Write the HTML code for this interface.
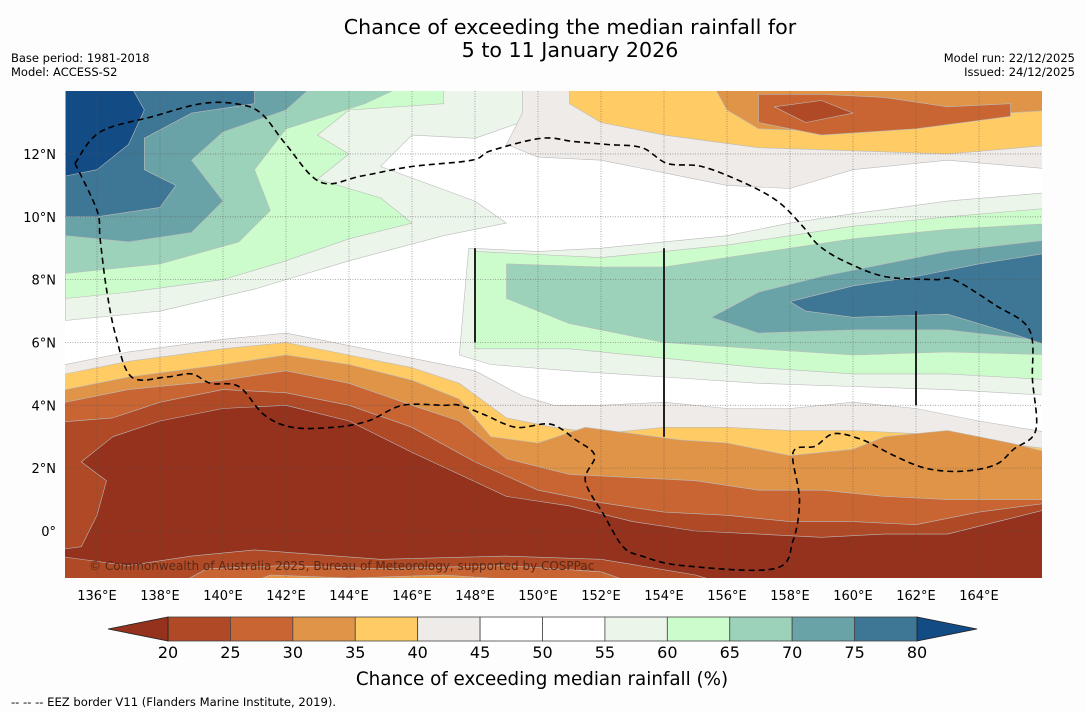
<!DOCTYPE html>
<html><head><meta charset="utf-8"><style>
body{margin:0;background:#fdfdfd;width:1085px;height:713px;overflow:hidden;font-family:"Liberation Sans","DejaVu Sans",sans-serif}
</style></head><body>
<svg id="chart" width="1085" height="713" xmlns="http://www.w3.org/2000/svg" style="position:absolute;left:0;top:0;font-family:'DejaVu Sans','Liberation Sans',sans-serif">
<text x="570" y="34" font-size="20.6" text-anchor="middle" fill="#000">Chance of exceeding the median rainfall for</text>
<text x="570" y="57" font-size="20.6" text-anchor="middle" fill="#000">5 to 11 January 2026</text>
<text x="11" y="62" font-size="11.5">Base period: 1981-2018</text>
<text x="11" y="76" font-size="11.5">Model: ACCESS-S2</text>
<text x="1075" y="62" font-size="11.5" text-anchor="end">Model run: 22/12/2025</text>
<text x="1075" y="76" font-size="11.5" text-anchor="end">Issued: 24/12/2025</text>
<defs><clipPath id="mapclip"><rect x="65" y="91" width="977" height="487"/></clipPath></defs>
<g id="map" clip-path="url(#mapclip)"></g>
<g id="axes"></g>
<g id="cbar"></g>
<text x="542" y="685" font-size="18.3" text-anchor="middle">Chance of exceeding median rainfall (%)</text>
<text x="11" y="706" font-size="11.6">--  --  -- EEZ border V11 (Flanders Marine Institute, 2019).</text>
</svg>
<script>
const levels=[20,25,30,35,40,45,50,55,60,65,70,75,80];
const binColors=["#94321e","#b04925","#c96532","#e09448","#fecb65","#efebe8","#ffffff","#ffffff","#ebf5ea","#ccfccc","#9cd2b9","#6aa3a7","#3e7795","#134b85"];
const lonTicks=[136,138,140,142,144,146,148,150,152,154,156,158,160,162,164];
const latTicks=[0,2,4,6,8,10,12];
// contour regions: [binIndex, polygon of [lon,lat]]
const regions=[
[8,[[135,14.3],[152,14.3],[152,13.6],[150,13.2],[148,12.5],[146,12.6],[145,11.6],[148,10.5],[149,9.8],[147,9.4],[144,8.6],[141,7.7],[138,7.0],[135,6.7]]],
[9,[[135,14.3],[147,14.3],[147,13.6],[144,13.4],[143,12.6],[144,12.0],[143,11.2],[145,10.6],[146,9.8],[144,9.3],[142,8.6],[140,8.0],[137,7.6],[135,7.4]]],
[10,[[135,14.3],[146,14.3],[144.5,13.6],[142,12.8],[141,11.5],[141.5,10.2],[140.5,9.2],[138,8.5],[135,8.2]]],
[11,[[135,14.3],[143,14.3],[142,13.4],[140,12.7],[139,11.8],[140,10.5],[139,9.5],[137,9.2],[135,9.4]]],
[12,[[135,14.3],[141,14.3],[141,13.6],[139,13.3],[137.5,12.5],[137.5,11.5],[138.5,11.0],[138,10.3],[136,10.0],[135,10.0]]],
[13,[[135,14.3],[137,14.3],[137.5,13.4],[137,12.3],[136,11.5],[135,11.3]]],
[8,[[147.5,5.6],[147.8,9.0],[150,8.9],[152,9.0],[154,9.2],[156,9.4],[158,9.8],[160,10.1],[163,10.5],[166.5,10.8],[166.5,4.3],[163,4.5],[160,4.6],[157,4.7],[154,4.9],[151,5.1],[148.5,5.3]]],
[9,[[148,5.8],[148,8.9],[150,8.8],[152,8.7],[154,8.9],[156,9.1],[158,9.4],[160,9.7],[163,10.0],[166.5,10.3],[166.5,4.8],[163,5.0],[160,5.0],[157,5.2],[154,5.5],[151,5.8],[149,5.8]]],
[10,[[149,7.4],[149,8.5],[152,8.4],[154,8.4],[156,8.7],[158,9.0],[160,9.3],[163,9.6],[166.5,9.8],[166.5,5.6],[163,5.7],[160,5.6],[157,5.8],[154,6.0],[151,6.6]]],
[11,[[155.5,6.8],[157,7.6],[159,8.1],[161,8.5],[163,8.9],[166.5,9.3],[166.5,6.0],[163,6.4],[160,6.4],[157,6.3]]],
[12,[[158,7.3],[160,7.8],[162,8.1],[164,8.5],[166.5,8.9],[166.5,5.8],[165,6.3],[163,6.9],[160,6.8],[158.5,7.0]]],
[5,[[149.5,14.3],[166.5,14.3],[166.5,11.5],[163,11.8],[160,11.5],[158,10.9],[156,11.0],[154,11.4],[152,11.8],[150,11.9],[149,12.3],[149.5,13.3]]],
[4,[[151,14.3],[166.5,14.3],[166.5,12.3],[163,12.0],[160,12.1],[157,12.2],[154,12.6],[152,13.0],[151,13.6]]],
[3,[[155.5,14.3],[166.5,14.3],[166.5,13.4],[163,13.2],[160,12.7],[157,12.8],[156,13.4]]],
[2,[[157,13.9],[159,13.9],[161,13.8],[163,13.5],[165,13.6],[165,13.2],[162,12.8],[159,12.6],[157,13.0]]],
[1,[[157.5,13.5],[159,13.7],[160,13.3],[158.5,13.0]]],
[5,[[134,5.1],[137,5.7],[140,6.1],[142,6.3],[144,5.9],[146,5.5],[148,5.1],[149.5,4.3],[150.5,4.0],[152,4.0],[154,4.1],[156,3.9],[158,3.9],[160,4.1],[162,3.9],[164,3.5],[167,3.0],[167,-2],[134,-2]]],
[4,[[134,4.8],[137,5.4],[140,5.8],[142,6.0],[144,5.6],[146,5.2],[147.5,4.7],[149,3.6],[150.5,3.3],[152,3.1],[154,3.3],[156,3.3],[158,3.2],[160,3.2],[162,3.1],[164,2.9],[167,2.5],[167,-2],[134,-2]]],
[3,[[134,4.3],[137,4.9],[140,5.3],[142,5.6],[144,5.3],[146,4.8],[147.5,4.2],[148.5,3.0],[150,2.8],[151.5,3.3],[153,3.1],[154.5,2.9],[156,2.8],[158,2.4],[160,2.6],[161,3.0],[163,3.2],[165,2.8],[167,2.3],[167,-2],[134,-2]]],
[2,[[134,3.9],[137,4.5],[140,4.8],[142,5.1],[144,4.7],[146,4.0],[147.5,3.5],[149,2.3],[151,1.8],[153,1.7],[155,1.6],[157,1.3],[159,1.3],[161,1.1],[163,1.0],[166,1.0],[167,1.0],[167,-2],[134,-2]]],
[1,[[134,3.4],[136.5,3.6],[138,4.1],[140,4.5],[142,4.4],[144,4.0],[146,3.3],[148,2.2],[150,1.3],[152,0.9],[154,0.6],[156,0.5],[158,0.3],[160,0.3],[162,0.2],[164,0.6],[167,1.0],[167,-2],[134,-2]]],
[0,[[134,-0.7],[135.5,-0.5],[136,0.5],[136.3,1.6],[135.5,2.2],[136.5,3.0],[138,3.5],[140,3.9],[142,4.0],[144,3.5],[146,2.5],[147.5,1.8],[149,1.1],[151,0.8],[153,0.3],[155,0.0],[157,-0.1],[159,-0.2],[161,-0.1],[163,-0.1],[165,0.4],[167,0.9],[167,-2],[157,-2],[155,-1.4],[152,-0.9],[149,-0.8],[145,-0.9],[141,-0.6],[139,-0.8],[137,-1.1]]],
[2,[[138,-2],[139.5,-1.2],[142,-1.1],[145,-1.2],[149,-1.1],[152,-1.3],[154,-2]]],
[3,[[140,-2],[141.5,-1.4],[144,-1.5],[147,-1.4],[150,-1.6],[151,-2]]]
];
const eez=[[135.3,11.7],[136.1,12.7],[137.8,13.2],[139.3,13.6],[140.4,13.6],[141.2,13.3],[142,12.3],[143.1,11.1],[144.4,11.3],[146,11.6],[147.9,11.8],[148.5,12.1],[150.1,12.5],[151.1,12.4],[152.2,12.3],[153.3,12.2],[154.1,11.7],[155.2,11.6],[156.5,11.1],[157.6,10.5],[158.4,9.7],[158.9,9.1],[159.7,8.6],[161,8.1],[162.6,8.0],[163.2,8.0],[164.5,7.2],[165.6,6.4],[165.7,4.8],[165.8,3.2],[165.1,2.6],[164.5,2.1],[163.4,1.9],[162.3,2.0],[161.3,2.4],[160.3,2.9],[159.4,3.1],[158.8,2.7],[158.1,2.5],[158.3,1.0],[158.1,-0.3],[157.5,-1.2],[154.6,-1.1],[153.3,-0.8],[152.7,-0.5],[152.1,0.5],[151.5,1.6],[151.8,2.4],[151.2,2.9],[150.4,3.4],[149.3,3.3],[148.3,3.7],[147.5,4.0],[147,4.0],[145.7,4.0],[144.6,3.5],[143.5,3.3],[142.2,3.3],[141.3,3.7],[140.5,4.6],[139.6,4.7],[139,5.0],[138.2,4.9],[137.1,4.9],[136.6,6.2],[136.3,7.7],[136.1,9.3],[136,10.2],[135.3,11.7]];
const stems=[[148,6,9],[154,3,9],[162,4,7]];

const NS='http://www.w3.org/2000/svg';
const X=lon=>97+(lon-136)*31.5;
const Y=lat=>531-lat*31.42;
function linear(pts){
  return 'M'+pts.map(q=>X(q[0]).toFixed(1)+','+Y(q[1]).toFixed(1)).join('L')+'Z';
}
function smooth(pts){
  const p=pts.map(q=>[X(q[0]),Y(q[1])]);const n=p.length;let d='M'+p[0][0].toFixed(1)+','+p[0][1].toFixed(1);
  for(let i=0;i<n-1;i++){
    const p1=p[i],p2=p[i+1],a0=i>0?p[i-1]:p1,a3=i+2<n?p[i+2]:p2;
    const c1=[p1[0]+(p2[0]-a0[0])/6,p1[1]+(p2[1]-a0[1])/6],c2=[p2[0]-(a3[0]-p1[0])/6,p2[1]-(a3[1]-p1[1])/6];
    d+=`C${c1[0].toFixed(1)},${c1[1].toFixed(1)} ${c2[0].toFixed(1)},${c2[1].toFixed(1)} ${p2[0].toFixed(1)},${p2[1].toFixed(1)}`;
  }
  return d;
}
const map=document.getElementById('map');
const bg=document.createElementNS(NS,'rect');


bg.setAttribute('x',65);bg.setAttribute('y',91);bg.setAttribute('width',977);bg.setAttribute('height',487);bg.setAttribute('fill','#ffffff');
map.appendChild(bg);
regions.forEach((r,i)=>{
  const el=document.createElementNS(NS,'path');
  
  
  el.setAttribute('d',linear(r[1]));el.setAttribute('fill',binColors[r[0]]);
  el.setAttribute('stroke','#bbb');el.setAttribute('stroke-width','0.6');el.setAttribute('stroke-linejoin','round');
  map.appendChild(el);
});
lonTicks.forEach(l=>{
  const g=document.createElementNS(NS,'line');
  
  
  g.setAttribute('x1',X(l));g.setAttribute('x2',X(l));g.setAttribute('y1',91);g.setAttribute('y2',578);
  g.setAttribute('stroke','#555');g.setAttribute('stroke-width','0.8');g.setAttribute('stroke-dasharray','1,1.5');g.setAttribute('opacity','0.6');
  map.appendChild(g);
});
latTicks.forEach(l=>{
  const g=document.createElementNS(NS,'line');
  
  
  g.setAttribute('x1',65);g.setAttribute('x2',1042);g.setAttribute('y1',Y(l));g.setAttribute('y2',Y(l));
  g.setAttribute('stroke','#555');g.setAttribute('stroke-width','0.8');g.setAttribute('stroke-dasharray','1,1.5');g.setAttribute('opacity','0.6');
  map.appendChild(g);
});
stems.forEach(s=>{
  const g=document.createElementNS(NS,'line');
  
  
  g.setAttribute('x1',X(s[0]));g.setAttribute('x2',X(s[0]));g.setAttribute('y1',Y(s[2]));g.setAttribute('y2',Y(s[1]));
  g.setAttribute('stroke','#222');g.setAttribute('stroke-width','2');
  map.appendChild(g);
});
const ez=document.createElementNS(NS,'path');


ez.setAttribute('d',smooth(eez));ez.setAttribute('fill','none');ez.setAttribute('stroke','#000');ez.setAttribute('stroke-width','1.6');ez.setAttribute('stroke-dasharray','6,4');
map.appendChild(ez);
const cp=document.createElementNS(NS,'text');


cp.setAttribute('x',89);cp.setAttribute('y',570);cp.setAttribute('font-size','12');cp.setAttribute('fill','#5a2a18');
cp.textContent='© Commonwealth of Australia 2025, Bureau of Meteorology, supported by COSPPac';
map.appendChild(cp);

const axes=document.getElementById('axes');
lonTicks.forEach(l=>{
  const t=document.createElementNS(NS,'text');
  
  
  t.setAttribute('x',X(l));t.setAttribute('y',600);t.setAttribute('font-size','13');t.setAttribute('text-anchor','middle');
  t.textContent=l+'°E';axes.appendChild(t);
});
latTicks.forEach(l=>{
  const t=document.createElementNS(NS,'text');
  
  
  t.setAttribute('x',56);t.setAttribute('y',Y(l)+5);t.setAttribute('font-size','13');t.setAttribute('text-anchor','end');
  t.textContent=l===0?'0°':l+'°N';axes.appendChild(t);
});

const cb=document.getElementById('cbar');
const cx0=168,cw=(917-168)/12,cy=617,ch=24;
for(let i=1;i<binColors.length-1;i++){
  const r=document.createElementNS(NS,'rect');
  
  
  r.setAttribute('x',cx0+(i-1)*cw);r.setAttribute('y',cy);r.setAttribute('width',cw);r.setAttribute('height',ch);
  r.setAttribute('fill',binColors[i]);r.setAttribute('stroke','#444');r.setAttribute('stroke-width','0.8');
  cb.appendChild(r);
}
const lt=document.createElementNS(NS,'polygon');


lt.setAttribute('points',`${cx0},${cy} ${cx0},${cy+ch} 108,${cy+ch/2}`);lt.setAttribute('fill',binColors[0]);lt.setAttribute('stroke','#222');lt.setAttribute('stroke-width','0.8');
cb.appendChild(lt);
const rt=document.createElementNS(NS,'polygon');


rt.setAttribute('points',`917,${cy} 917,${cy+ch} 977,${cy+ch/2}`);rt.setAttribute('fill',binColors[13]);rt.setAttribute('stroke','#222');rt.setAttribute('stroke-width','0.8');
cb.appendChild(rt);
levels.forEach((v,i)=>{
  const t=document.createElementNS(NS,'text');
  
  
  t.setAttribute('x',cx0+i*cw);t.setAttribute('y',658);t.setAttribute('font-size','16');t.setAttribute('text-anchor','middle');
  t.textContent=v;cb.appendChild(t);
});
</script>
</body></html>
